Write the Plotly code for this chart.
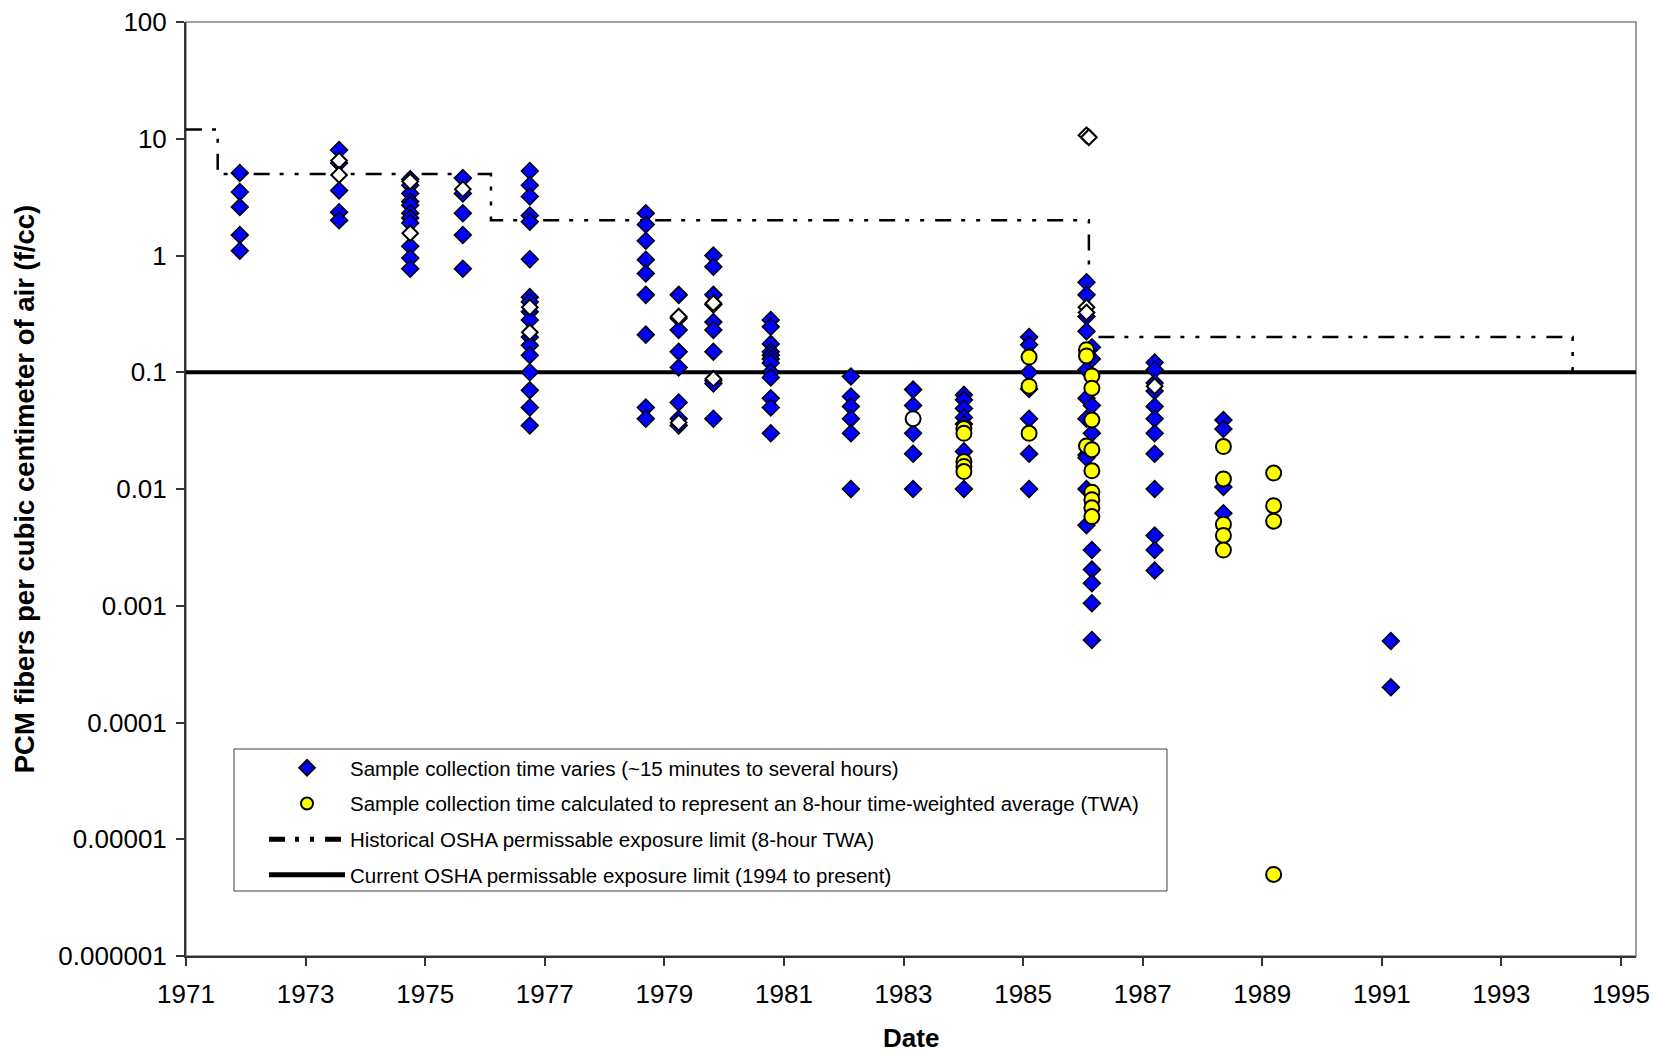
import plotly.graph_objects as go

# ---------------- data ----------------
# Blue diamonds: sample collection time varies
varies_date = (
    [1971.9] * 5 + [1973.56] * 5 + [1974.75] * 11 + [1975.63] * 5 + [1976.75] * 17 +
    [1978.69] * 9 + [1979.24] * 8 + [1979.82] * 10 + [1980.78] * 12 + [1982.12] * 6 +
    [1983.16] * 5 + [1984.01] * 7 + [1985.1] * 7 + [1986.06] * 11 + [1986.15] * 9 +
    [1987.2] * 12 + [1988.35] * 4 + [1991.15] * 2
)
varies_fcc = [
    5.1, 3.5, 2.6, 1.5, 1.1,
    8.0, 6.2, 3.6, 2.35, 2.0,
    4.5, 4.0, 3.4, 2.9, 2.7, 2.3, 2.1, 1.9, 1.2, 0.95, 0.77,
    4.6, 3.4, 2.3, 1.5, 0.77,
    5.3, 4.0, 3.2, 2.2, 1.95, 0.93, 0.44, 0.40, 0.33, 0.28, 0.20, 0.17, 0.14, 0.10, 0.07, 0.05, 0.035,
    2.3, 1.84, 1.34, 0.92, 0.70, 0.46, 0.21, 0.05, 0.04,
    0.46, 0.29, 0.23, 0.15, 0.11, 0.055, 0.04, 0.035,
    1.0, 0.8, 0.46, 0.38, 0.27, 0.23, 0.15, 0.085, 0.08, 0.04,
    0.28, 0.245, 0.175, 0.15, 0.14, 0.13, 0.12, 0.10, 0.09, 0.06, 0.05, 0.03,
    0.092, 0.062, 0.051, 0.04, 0.03, 0.01,
    0.071, 0.052, 0.03, 0.02, 0.01,
    0.064, 0.058, 0.049, 0.041, 0.036, 0.021, 0.01,
    0.2, 0.172, 0.1, 0.072, 0.04, 0.02, 0.01,
    0.59, 0.46, 0.30, 0.224, 0.105, 0.06, 0.04, 0.0196, 0.0185, 0.01, 0.0049,
    0.164, 0.13, 0.052, 0.03, 0.003, 0.00204, 0.00156, 0.00105, 0.00051,
    0.121, 0.105, 0.081, 0.069, 0.051, 0.040, 0.030, 0.020, 0.010, 0.004, 0.003, 0.002,
    0.039, 0.0326, 0.0104, 0.0062,
    0.0005, 0.0002,
]

# Yellow circles: 8-hour TWA samples
twa_date = (
    [1984.01] * 5 + [1985.1] * 3 + [1986.06] * 3 + [1986.15] * 9 +
    [1988.35] * 5 + [1989.19] * 4
)
twa_fcc = [
    0.033, 0.030, 0.0172, 0.0156, 0.0141,
    0.135, 0.076, 0.030,
    0.156, 0.138, 0.0234,
    0.093, 0.073, 0.039, 0.0217, 0.0143, 0.0094, 0.0081, 0.0069, 0.0058,
    0.0231, 0.0122, 0.005, 0.004, 0.003,
    0.0137, 0.0072, 0.0053, 0.000005,
]

# Open (white) markers seen in the chart
open_diamond_date = [1973.56, 1973.56, 1974.75, 1974.75, 1975.63, 1976.75, 1976.75,
                     1979.24, 1979.24, 1979.82, 1979.82, 1986.06, 1986.1, 1986.06, 1986.06, 1987.2]
open_diamond_fcc = [6.5, 4.9, 4.3, 1.55, 3.7, 0.36, 0.22,
                    0.30, 0.037, 0.39, 0.088, 10.7, 10.3, 0.36, 0.325, 0.076]
open_circle_date = [1983.16]
open_circle_fcc = [0.04]

# Historical OSHA PEL (8-hour TWA) step line
pel_hist_date = [1971.0, 1971.53, 1976.1, 1986.1, 1994.19]
pel_hist_fcc = [12, 5, 2, 0.2, 0.1]

# Current OSHA PEL
pel_now_date = [1971.0, 1995.3]
pel_now_fcc = [0.1, 0.1]

x_ticks = list(range(1971, 1996, 2))
y_ticks = [100, 10, 1, 0.1, 0.01, 0.001, 0.0001, 0.00001, 0.000001]
y_tick_text = ["100", "10", "1", "0.1", "0.01", "0.001", "0.0001", "0.00001", "0.000001"]

names = [
    "Sample collection time varies (~15 minutes to several hours)",
    "Sample collection time calculated to represent an 8-hour time-weighted average (TWA)",
    "Historical OSHA permissable exposure limit (8-hour TWA)",
    "Current OSHA permissable exposure limit (1994 to present)",
]

# ---------------- figure ----------------
FONT = "Arial, Liberation Sans, sans-serif"
fig = go.Figure()

fig.add_trace(go.Scatter(
    x=pel_hist_date, y=pel_hist_fcc, mode="lines", line_shape="hv",
    line=dict(color="black", width=2.5, dash="16px,10px,4px,11px,4px,11px"),
    name=names[2], legendrank=3, legendgroup="c", hoverinfo="skip"))
fig.add_trace(go.Scatter(
    x=pel_now_date, y=pel_now_fcc, mode="lines",
    line=dict(color="black", width=4),
    name=names[3], legendrank=4, legendgroup="d", hoverinfo="skip"))
fig.add_trace(go.Scatter(
    x=varies_date, y=varies_fcc, mode="markers",
    marker=dict(symbol="diamond", size=13, color="#0000FF", line=dict(color="black", width=1.5)),
    name=names[0], legendrank=1, legendgroup="a"))
fig.add_trace(go.Scatter(
    x=open_diamond_date, y=open_diamond_fcc, mode="markers", showlegend=False,
    marker=dict(symbol="diamond", size=12, color="white", line=dict(color="black", width=2))))
fig.add_trace(go.Scatter(
    x=twa_date, y=twa_fcc, mode="markers",
    marker=dict(symbol="circle", size=15, color="#FFFF00", line=dict(color="black", width=2)),
    name=names[1], legendrank=2, legendgroup="b"))
fig.add_trace(go.Scatter(
    x=open_circle_date, y=open_circle_fcc, mode="markers", showlegend=False,
    marker=dict(symbol="circle", size=15, color="white", line=dict(color="black", width=2))))

# plot area border (grey, Excel style) and legend box
fig.add_shape(type="rect", xref="paper", yref="paper", x0=0, x1=1, y0=0, y1=1,
              line=dict(color="#808080", width=1.5), layer="below")
fig.add_shape(type="rect", xref="paper", yref="paper",
              x0=(234 - 186) / 1450, x1=(1167 - 186) / 1450,
              y0=(956 - 891) / 934, y1=(956 - 749) / 934,
              line=dict(color="#404040", width=1), fillcolor="white", layer="below")

# x-axis title as a text placed below the tick labels
fig.add_annotation(text="<b>Date</b>", xref="paper", yref="paper", x=0.5, y=0,
                   yshift=-82, xanchor="center", yanchor="middle", showarrow=False,
                   font=dict(family=FONT, size=26, color="black"))

fig.update_layout(
    template="none",
    width=1653, height=1052,
    margin=dict(l=186, r=17, t=22, b=96, autoexpand=False),
    paper_bgcolor="white", plot_bgcolor="white",
    font=dict(family=FONT, color="black", size=20),
    showlegend=True,
    legend=dict(
        x=(264 - 186) / 1450, y=(956 - 748) / 934, xanchor="left", yanchor="top",
        bgcolor="rgba(0,0,0,0)", borderwidth=0, itemwidth=76,
        font=dict(family=FONT, size=20.5, color="black"),
        tracegroupgap=6, itemsizing="constant",
    ),
    xaxis=dict(
        range=[1971, 1995.25], tickvals=x_ticks, ticktext=[str(v) for v in x_ticks],
        showgrid=False, zeroline=False, showline=True, linecolor="#333333", linewidth=2,
        ticks="outside", ticklen=8, tickwidth=1.5, tickcolor="#333333", automargin=False,
        tickfont=dict(family=FONT, size=26), ticklabelstandoff=6,
    ),
    yaxis=dict(
        type="log", range=[-6, 2], tickvals=y_ticks, ticktext=y_tick_text,
        showgrid=False, zeroline=False, showline=True, linecolor="#333333", linewidth=2,
        ticks="outside", ticklen=8, tickwidth=1.5, tickcolor="#333333", automargin=False,
        tickfont=dict(family=FONT, size=26), ticklabelstandoff=4,
        title=dict(text="<b>PCM fibers per cubic centimeter of air (f/cc)</b>",
                   font=dict(family=FONT, size=27.5), standoff=16),
    ),
)

fig.write_html(
    "out.html",
    config={"displayModeBar": False},
    post_script="document.body.style.margin='0';document.body.style.padding='0';"
                "document.documentElement.style.overflow='hidden';",
)
